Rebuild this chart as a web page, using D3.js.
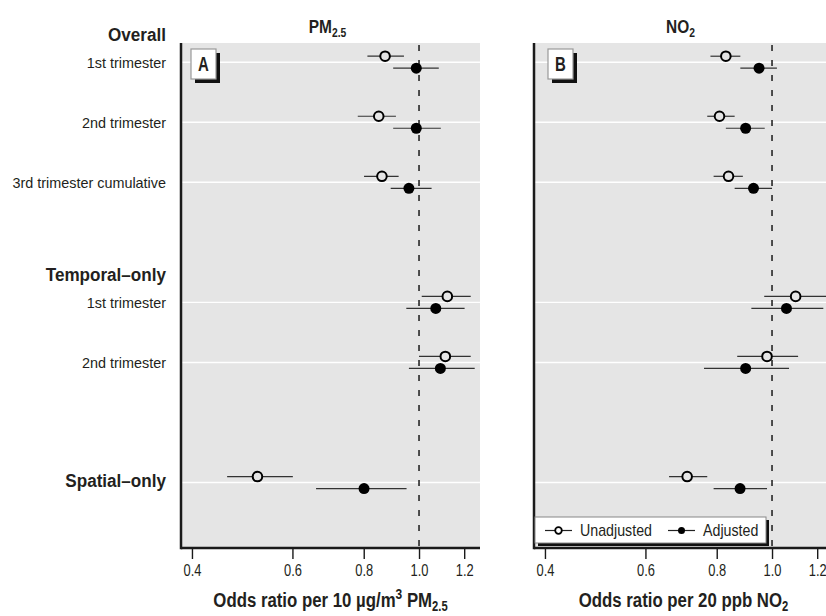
<!DOCTYPE html>
<html>
<head>
<meta charset="utf-8">
<script src="https://cdn.jsdelivr.net/npm/d3@7.9.0/dist/d3.min.js"></script>
<style>
  body { margin: 0; background: #fff; }
  svg { display: block; font-family: "Liberation Sans", Arial, sans-serif; }
</style>
</head>
<body>
<svg id="chart" width="826" height="616"></svg>
<script>
// rows (position on the y grid, blank slots between groups)
const rowLabels = ['1st trimester', '2nd trimester', '3rd trimester cumulative', '1st trimester', '2nd trimester', ''];
const rowPos = [0, 1, 2, 4, 5, 7];
const groupLabels = ['Overall', 'Temporal\u2013only', 'Spatial\u2013only'];
const groupRow = [0, 4, 7];
const groupOwnRow = [false, false, true]; // spatial label sits on its row

const xTicks = [0.4, 0.6, 0.8, 1.0, 1.2];

// PM2.5 odds ratios
const pmUnadj   = [0.872, 0.850, 0.861, 1.121, 1.112, 0.521];
const pmUnadjLo = [0.812, 0.781, 0.801, 1.011, 1.000, 0.461];
const pmUnadjHi = [0.941, 0.911, 0.921, 1.232, 1.232, 0.601];
const pmAdj     = [0.989, 0.989, 0.960, 1.070, 1.090, 0.801];
const pmAdjLo   = [0.901, 0.901, 0.892, 0.950, 0.960, 0.660];
const pmAdjHi   = [1.083, 1.092, 1.052, 1.202, 1.252, 0.951];

// NO2 odds ratios
const noUnadj   = [0.830, 0.809, 0.839, 1.100, 0.980, 0.710];
const noUnadjLo = [0.780, 0.770, 0.790, 0.969, 0.869, 0.660];
const noUnadjHi = [0.880, 0.860, 0.889, 1.250, 1.111, 0.770];
const noAdj     = [0.949, 0.899, 0.928, 1.060, 0.899, 0.879];
const noAdjLo   = [0.880, 0.830, 0.860, 0.920, 0.760, 0.790];
const noAdjHi   = [1.020, 0.971, 1.000, 1.230, 1.071, 0.980];

const panels = [
  { id: 'A', title: ['PM', '2.5'], left: 181, boxDx: 10,
    unadj: pmUnadj, unadjLo: pmUnadjLo, unadjHi: pmUnadjHi,
    adj: pmAdj, adjLo: pmAdjLo, adjHi: pmAdjHi,
    xlab: 'pm' },
  { id: 'B', title: ['NO', '2'], left: 534, boxDx: 14,
    unadj: noUnadj, unadjLo: noUnadjLo, unadjHi: noUnadjHi,
    adj: noAdj, adjLo: noAdjLo, adjHi: noAdjHi,
    xlab: 'no', legend: true }
];

const panelW = 299;
const plotTop = 43, plotBottom = 548;
const bg = '#e5e5e5';
const dark = '#1a1a1a';
const ink = '#231f20';

const svg = d3.select('#chart');

const x = d3.scaleLog().domain([0.3827, 1.279]).range([0, panelW]);
const y = d3.scaleLinear().domain([-0.32, 8.09]).range([plotTop, plotBottom]);

// the original uses a condensed face; squeeze Liberation Sans horizontally
function squeezedText(parent, tx, ty, sx) {
  return parent.append('text')
    .attr('transform', `translate(${tx},${ty}) scale(${sx},1)`)
    .attr('fill', ink);
}

// row labels on the left
rowLabels.forEach((t, i) => {
  if (!t) return;
  squeezedText(svg, 166, y(rowPos[i]), 0.96)
    .attr('dy', '0.36em')
    .attr('text-anchor', 'end')
    .attr('font-size', 15)
    .text(t);
});
groupLabels.forEach((t, i) => {
  squeezedText(svg, 166, groupOwnRow[i] ? y(groupRow[i]) - 2 : y(groupRow[i]) - 21, 0.9)
    .attr('dy', groupOwnRow[i] ? '0.36em' : 0)
    .attr('text-anchor', 'end')
    .attr('font-size', 19)
    .attr('font-weight', 'bold')
    .text(t);
});

panels.forEach((p) => {
  const g = svg.append('g').attr('transform', `translate(${p.left},0)`);

  g.append('rect')
    .attr('x', 0).attr('y', plotTop)
    .attr('width', panelW).attr('height', plotBottom - plotTop)
    .attr('fill', bg);

  // white grid lines at each labelled row
  g.selectAll('.grid').data(rowPos).join('line')
    .attr('x1', 0).attr('x2', panelW)
    .attr('y1', (d) => y(d)).attr('y2', (d) => y(d))
    .attr('stroke', '#fff').attr('stroke-width', 1.4);

  // reference line at OR = 1
  g.append('line')
    .attr('x1', x(1)).attr('x2', x(1))
    .attr('y1', plotTop + 2).attr('y2', plotBottom)
    .attr('stroke', dark).attr('stroke-width', 1.5)
    .attr('stroke-dasharray', '6,9');

  // confidence intervals
  const ci = (lo, hi, dy) => {
    g.selectAll(null).data(rowPos).join('line')
      .attr('x1', (d, i) => x(lo[i])).attr('x2', (d, i) => x(hi[i]))
      .attr('y1', (d) => y(d) + dy).attr('y2', (d) => y(d) + dy)
      .attr('stroke', '#333').attr('stroke-width', 1.2);
  };
  ci(p.unadjLo, p.unadjHi, -6);
  ci(p.adjLo, p.adjHi, 6);

  g.selectAll(null).data(rowPos).join('circle')
    .attr('cx', (d, i) => x(p.unadj[i])).attr('cy', (d) => y(d) - 6)
    .attr('r', 4.8)
    .attr('fill', bg).attr('stroke', '#000').attr('stroke-width', 2);
  g.selectAll(null).data(rowPos).join('circle')
    .attr('cx', (d, i) => x(p.adj[i])).attr('cy', (d) => y(d) + 6)
    .attr('r', 5.5)
    .attr('fill', '#000');

  // left and bottom border
  g.append('line').attr('x1', 0).attr('x2', 0).attr('y1', plotTop).attr('y2', plotBottom + 1.2)
    .attr('stroke', dark).attr('stroke-width', 2.5);
  g.append('line').attr('x1', 0).attr('x2', panelW).attr('y1', plotBottom).attr('y2', plotBottom)
    .attr('stroke', dark).attr('stroke-width', 2.5);

  // x axis
  const ax = g.append('g').attr('transform', `translate(0,${plotBottom + 1})`)
    .call(d3.axisBottom(x).tickValues(xTicks).tickFormat(d3.format('.1f')).tickSize(10).tickPadding(5));
  ax.select('.domain').remove();
  ax.selectAll('.tick line').attr('stroke', dark).attr('stroke-width', 1.4);
  ax.selectAll('.tick text')
    .attr('font-family', '"Liberation Sans", Arial, sans-serif')
    .attr('font-size', 17).attr('fill', ink)
    .attr('transform', 'scale(0.76,1)');

  // panel title
  const tt = squeezedText(g, panelW / 2 - 3, 33, 0.86)
    .attr('text-anchor', 'middle')
    .attr('font-size', 18).attr('font-weight', 'bold');
  tt.append('tspan').text(p.title[0]);
  tt.append('tspan').attr('dy', 4).attr('font-size', 12).text(p.title[1]);

  // x axis title
  const xt = squeezedText(g, panelW / 2, 607, 0.8)
    .attr('text-anchor', 'middle')
    .attr('font-size', 21).attr('font-weight', 'bold');
  if (p.xlab === 'pm') {
    xt.append('tspan').text('Odds ratio per 10 \u00b5g/m');
    xt.append('tspan').attr('dy', -8).attr('font-size', 15).text('3');
    xt.append('tspan').attr('dy', 8).text(' PM');
    xt.append('tspan').attr('dy', 4).attr('font-size', 14).text('2.5');
  } else {
    xt.append('tspan').text('Odds ratio per 20 ppb NO');
    xt.append('tspan').attr('dy', 4).attr('font-size', 14).text('2');
  }

  // panel letter box
  const bx = p.boxDx, by = 49;
  g.append('rect').attr('x', bx + 4).attr('y', by + 4).attr('width', 25).attr('height', 30).attr('fill', '#111');
  g.append('rect').attr('x', bx).attr('y', by).attr('width', 25).attr('height', 30)
    .attr('fill', '#fff').attr('stroke', '#999').attr('stroke-width', 1.2);
  squeezedText(g, bx + 12.5, by + 15, 0.75)
    .attr('dy', '0.36em')
    .attr('text-anchor', 'middle').attr('font-size', 20).attr('font-weight', 'bold')
    .text(p.id);

  if (p.legend) {
    const lg = g.append('g').attr('transform', `translate(1,517)`);
    lg.append('rect').attr('x', 3).attr('y', 3).attr('width', 231).attr('height', 26).attr('fill', '#111');
    lg.append('rect').attr('x', 0).attr('y', 0).attr('width', 231).attr('height', 26)
      .attr('fill', '#fff').attr('stroke', '#888').attr('stroke-width', 1);
    const cy = 13.5;
    lg.append('line').attr('x1', 10).attr('x2', 37).attr('y1', cy).attr('y2', cy).attr('stroke', '#222').attr('stroke-width', 1.2);
    lg.append('circle').attr('cx', 23.5).attr('cy', cy).attr('r', 3.3).attr('fill', '#fff').attr('stroke', '#000').attr('stroke-width', 1.8);
    squeezedText(lg, 45, cy, 0.89).attr('dy', '0.36em').attr('font-size', 16).text('Unadjusted');
    lg.append('line').attr('x1', 133).attr('x2', 160).attr('y1', cy).attr('y2', cy).attr('stroke', '#222').attr('stroke-width', 1.2);
    lg.append('circle').attr('cx', 146.5).attr('cy', cy).attr('r', 3.5).attr('fill', '#000');
    squeezedText(lg, 168, cy, 0.89).attr('dy', '0.36em').attr('font-size', 16).text('Adjusted');
  }
});
</script>
</body>
</html>
